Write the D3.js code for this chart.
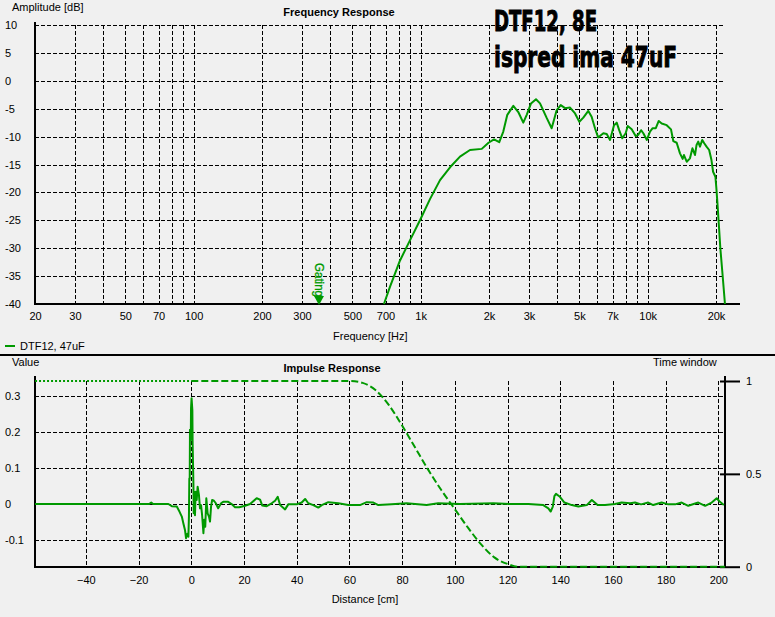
<!DOCTYPE html>
<html><head><meta charset="utf-8">
<script src="https://cdn.jsdelivr.net/npm/d3@7/dist/d3.min.js"></script>
<style>
html,body{margin:0;padding:0;background:#f0f0f0;}
svg{display:block;font-family:"Liberation Sans",Arial,sans-serif;}
</style></head>
<body>
<svg id="chart" width="775" height="617"></svg>
<script>
// ---------- data ----------
const freqHz = [689, 733, 811, 897, 993, 1099, 1217, 1347, 1490, 1649, 1858, 1990, 2105, 2219, 2312, 2408, 2560, 2692, 2832, 2932, 3063, 3221, 3356, 3594, 3777, 3975, 4140, 4325, 4551, 4788, 5000, 5206, 5477, 5664, 5861, 6050, 6378, 6601, 6826, 7108, 7305, 7490, 7730, 8000, 8170, 8505, 8854, 9080, 9350, 9570, 9920, 10240, 10520, 10860, 11190, 11530, 12130, 12670, 12970, 13420, 13880, 14260, 14450, 14860, 15360, 15750, 16160, 16420, 16700, 17000, 17400, 17750, 18170, 18660, 19100, 19420, 19880, 20080, 20300, 20600, 20900, 21300, 21600, 21900];
const freqDb = [-40, -36.9, -32.2, -28.6, -25, -21.2, -17.8, -15.5, -13.6, -12.4, -12.2, -11.1, -10.5, -11.0, -9.1, -6.1, -4.5, -5.6, -7.5, -6.1, -4.05, -3.3, -4.05, -6.7, -8.5, -5.25, -4.35, -4.9, -4.8, -5.85, -7.35, -6.6, -5.4, -6.45, -8.5, -10.15, -9.4, -9.55, -10.6, -7.95, -7.5, -8.85, -10.3, -9.4, -8.1, -8.7, -9.9, -9.7, -8.85, -9.4, -10.6, -9.1, -8.5, -8.5, -7.2, -7.65, -7.95, -8.7, -10.8, -11.1, -13.0, -14.0, -13.3, -14.5, -13.9, -12.1, -13.3, -11.5, -10.9, -11.8, -10.6, -11.2, -11.8, -12.4, -14.2, -16.3, -17.2, -19.3, -22, -26, -30, -34, -37, -40];

const impCm = [-59.3, -16, -15.2, -14.5, -10, -8.7, -7.4, -5.5, -4.5, -3.6, -3.0, -2.4, -2.0, -1.5, -1.1, -0.9, -0.75, -0.6, -0.5, -0.2, -0.1, 0.1, 0.4, 0.5, 0.8, 0.9, 1.1, 1.4, 1.65, 2.05, 2.4, 2.9, 3.3, 3.7, 4.1, 4.6, 4.9, 5.3, 5.7, 6.2, 6.7, 7.1, 7.5, 7.9, 8.6, 9.3, 10.2, 11.3, 12.1, 14.0, 15.3, 16.6, 18.2, 20.4, 22.3, 24.8, 26.1, 26.9, 28.6, 30.5, 31.8, 32.8, 33.7, 35.6, 36.8, 40, 41.9, 43.2, 44.4, 46.3, 48.2, 49.5, 52, 55.8, 59.6, 64, 66.6, 69.1, 71, 76, 81.7, 89.3, 93.7, 102, 114.6, 121, 127.9, 133.6, 135.5, 136.4, 137.2, 137.8, 138.4, 139.9, 141.6, 144.4, 146.9, 150.1, 152, 154.2, 157, 160.8, 163.3, 166.5, 168.4, 170.7, 173.4, 175.3, 178.5, 181, 183.6, 186.1, 188.6, 192.4, 195, 197.5, 199.4, 200.6, 202.1];
const impVal = [0, 0, 0.004, 0, 0, 0, -0.006, -0.007, -0.021, -0.035, -0.054, -0.072, -0.095, -0.083, -0.091, -0.035, 0.071, 0.07, 0.206, 0.178, 0.266, 0.294, 0.261, 0.169, 0.057, -0.026, 0.034, -0.031, 0.034, 0.011, 0.048, 0.025, -0.012, -0.003, -0.031, -0.081, -0.044, -0.063, 0.016, -0.026, -0.035, -0.049, -0.007, 0.011, 0.009, 0.002, -0.012, 0.002, 0.006, 0.006, 0, -0.009, -0.009, -0.005, 0, 0.016, 0.012, -0.004, -0.006, 0.002, 0.009, 0.02, -0.003, -0.015, -0.001, -0.001, 0.004, 0.014, 0.002, -0.003, -0.01, -0.003, 0.005, 0.002, -0.003, -0.003, 0.005, 0.004, -0.003, -0.001, 0.002, -0.003, 0.002, 0, 0.002, 0, 0, -0.003, -0.012, -0.021, -0.007, 0.022, 0.028, 0.02, 0.004, -0.003, -0.007, -0.003, 0.011, -0.003, -0.003, 0, 0.004, 0.002, 0.004, -0.001, 0.004, -0.003, 0.004, -0.001, -0.001, 0.004, -0.005, 0.004, -0.005, 0.004, 0.016, 0.006, -0.003];

const winPreCm = [-59.3, 0];
const winPreVal = [1, 1];
const winCm = [0, 60, 65, 70, 75, 80, 85, 90, 95, 100, 105, 110, 115, 120, 124, 202.5];
const winVal = [1, 1, 0.99, 0.95, 0.87, 0.76, 0.64, 0.52, 0.41, 0.31, 0.21, 0.12, 0.05, 0.015, 0, 0];

const freqTickVals = [20, 30, 50, 70, 100, 200, 300, 500, 700, 1000, 2000, 3000, 5000, 7000, 10000, 20000];
const freqTickLabels = ["20", "30", "50", "70", "100", "200", "300", "500", "700", "1k", "2k", "3k", "5k", "7k", "10k", "20k"];
const dbTicks = [10, 5, 0, -5, -10, -15, -20, -25, -30, -35, -40];
const distTicks = [-40, -20, 0, 20, 40, 60, 80, 100, 120, 140, 160, 180, 200];
const valTicks = [0.3, 0.2, 0.1, 0, -0.1];
const valTickLabels = ["0.3", "0.2", "0.1", "0", "-0.1"];
const winTicks = [1, 0.5, 0];
const winTickLabels = ["1", "0.5", "0"];

// ---------- setup ----------
const GREEN = "#009900";
const svg = d3.select("#chart");
svg.append("rect").attr("width", 775).attr("height", 617).attr("fill", "#f0f0f0");

// ===== Frequency response =====
const fx = d3.scaleLog().domain([20, 20000]).range([35, 716]);
const fy = d3.scaleLinear().domain([-40, 10]).range([304, 25]);
const gTop = svg.append("g");

gTop.selectAll("line.hg").data(dbTicks.filter(d => d > -40)).join("line")
  .attr("x1", 35).attr("x2", 725).attr("y1", d => Math.round(fy(d)) + 0.5).attr("y2", d => Math.round(fy(d)) + 0.5)
  .attr("stroke", "#000").attr("stroke-dasharray", "4,2");
gTop.selectAll("line.vg").data(fx.ticks().filter(d => d > 20)).join("line")
  .attr("x1", d => Math.round(fx(d)) + 0.5).attr("x2", d => Math.round(fx(d)) + 0.5)
  .attr("y1", fy(10)).attr("y2", fy(-40))
  .attr("stroke", "#000").attr("stroke-dasharray", "4,2");

gTop.append("line").attr("x1", 35).attr("x2", 35).attr("y1", 22).attr("y2", 305).attr("stroke", "#000").attr("stroke-width", 2);
gTop.append("line").attr("x1", 34).attr("x2", 740).attr("y1", 304).attr("y2", 304).attr("stroke", "#000").attr("stroke-width", 2);

const fxAxis = d3.axisBottom(fx).tickValues(freqTickVals).tickFormat((d, i) => freqTickLabels[i]).tickSize(0).tickPadding(8);
const gfx = gTop.append("g").attr("transform", "translate(0,304)").call(fxAxis);
gfx.select(".domain").remove();
gfx.selectAll("text").attr("font-size", 11).attr("fill", "#000").attr("font-family", "Liberation Sans, Arial, sans-serif");

gTop.selectAll("text.yl").data(dbTicks).join("text")
  .attr("x", 5).attr("y", d => fy(d) + 4).attr("font-size", 11).text(d => d);

gTop.append("text").attr("x", 12).attr("y", 11).attr("font-size", 11).text("Amplitude [dB]");
gTop.append("text").attr("x", 339).attr("y", 16).attr("font-size", 11).attr("font-weight", "bold").attr("text-anchor", "middle").text("Frequency Response");
gTop.append("text").attr("x", 333).attr("y", 340).attr("font-size", 11).text("Frequency [Hz]");

gTop.append("text").attr("x", 494).attr("y", 31).attr("font-size", 29).attr("font-weight", "bold")
  .attr("font-family", "'Liberation Sans Narrow','DejaVu Sans Condensed','Liberation Sans',sans-serif")
  .attr("stroke", "#000").attr("stroke-width", 0.9)
  .attr("textLength", 103).attr("lengthAdjust", "spacingAndGlyphs").text("DTF12, 8E");
gTop.append("text").attr("x", 494).attr("y", 67).attr("font-size", 29).attr("font-weight", "bold")
  .attr("font-family", "'Liberation Sans Narrow','DejaVu Sans Condensed','Liberation Sans',sans-serif")
  .attr("stroke", "#000").attr("stroke-width", 0.9)
  .attr("textLength", 183).attr("lengthAdjust", "spacingAndGlyphs").text("ispred ima 47uF");

gTop.append("text").attr("transform", "translate(315,263) rotate(90)").attr("font-size", 12)
  .attr("fill", GREEN).attr("stroke", GREEN).attr("stroke-width", 0.3)
  .attr("textLength", 34).attr("lengthAdjust", "spacingAndGlyphs").text("Gating");
gTop.append("path").attr("d", "M314,296 L324,296 L319,305 Z").attr("fill", GREEN);

const fline = d3.line().x(d => fx(d[0])).y(d => fy(d[1]));
gTop.append("path").datum(freqHz.map((f, i) => [f, freqDb[i]]))
  .attr("d", fline).attr("fill", "none").attr("stroke", GREEN).attr("stroke-width", 2).attr("stroke-linejoin", "round");

svg.append("line").attr("x1", 5).attr("x2", 15).attr("y1", 346).attr("y2", 346).attr("stroke", GREEN).attr("stroke-width", 2);
svg.append("text").attr("x", 20).attr("y", 350).attr("font-size", 11).text("DTF12, 47uF");

svg.append("line").attr("x1", 0).attr("x2", 775).attr("y1", 355).attr("y2", 355).attr("stroke", "#000").attr("stroke-width", 2);

// ===== Impulse response =====
const ix = d3.scaleLinear().domain([0, 200]).range([191.3, 718.3]);
const iy = d3.scaleLinear().domain([0, 0.3]).range([504, 396]);
const wy = d3.scaleLinear().domain([0, 1]).range([566.7, 381]);
const gBot = svg.append("g");

gBot.selectAll("line.hg").data(valTicks).join("line")
  .attr("x1", 35).attr("x2", 725).attr("y1", d => Math.round(iy(d)) + 0.5).attr("y2", d => Math.round(iy(d)) + 0.5)
  .attr("stroke", "#000").attr("stroke-dasharray", "4,2");
gBot.selectAll("line.vg").data(distTicks).join("line")
  .attr("x1", d => Math.round(ix(d)) + 0.5).attr("x2", d => Math.round(ix(d)) + 0.5)
  .attr("y1", 381).attr("y2", 567)
  .attr("stroke", "#000").attr("stroke-dasharray", "4,2");

gBot.append("line").attr("x1", 35).attr("x2", 35).attr("y1", 376).attr("y2", 568).attr("stroke", "#000").attr("stroke-width", 2);
gBot.append("line").attr("x1", 34).attr("x2", 726).attr("y1", 567).attr("y2", 567).attr("stroke", "#000").attr("stroke-width", 2);
gBot.append("line").attr("x1", 725).attr("x2", 725).attr("y1", 376).attr("y2", 568).attr("stroke", "#000").attr("stroke-width", 2);

const ixAxis = d3.axisBottom(ix).tickValues(distTicks).tickSize(0).tickPadding(9);
const gix = gBot.append("g").attr("transform", "translate(0,567)").call(ixAxis);
gix.select(".domain").remove();
gix.selectAll("text").attr("font-size", 11).attr("fill", "#000").attr("font-family", "Liberation Sans, Arial, sans-serif");

gBot.selectAll("text.yl").data(valTicks).join("text")
  .attr("x", 5).attr("y", d => iy(d) + 4).attr("font-size", 11).text((d, i) => valTickLabels[i]);

const wAxis = d3.axisRight(wy).tickValues(winTicks).tickFormat((d, i) => winTickLabels[i]).tickSize(15).tickPadding(6);
const gw = gBot.append("g").attr("transform", "translate(725,0)").call(wAxis);
gw.select(".domain").remove();
gw.selectAll(".tick line").attr("stroke", "#000").attr("stroke-width", 2).attr("x1", -5);
gw.selectAll("text").attr("font-size", 11).attr("fill", "#000").attr("font-family", "Liberation Sans, Arial, sans-serif");

gBot.append("text").attr("x", 12).attr("y", 366).attr("font-size", 11).text("Value");
gBot.append("text").attr("x", 332).attr("y", 372).attr("font-size", 11).attr("font-weight", "bold").attr("text-anchor", "middle").text("Impulse Response");
gBot.append("text").attr("x", 653).attr("y", 366).attr("font-size", 11).text("Time window");
gBot.append("text").attr("x", 365).attr("y", 603).attr("font-size", 11).attr("text-anchor", "middle").text("Distance [cm]");

const wline = d3.line().x(d => ix(d[0])).y(d => wy(d[1]));
gBot.append("path").datum(winPreCm.map((c, i) => [c, winPreVal[i]]))
  .attr("d", wline).attr("fill", "none").attr("stroke", GREEN).attr("stroke-width", 2).attr("stroke-dasharray", "2,2");
gBot.append("path").datum(winCm.map((c, i) => [c, winVal[i]]))
  .attr("d", d3.line().x(d => ix(d[0])).y(d => wy(d[1])).curve(d3.curveMonotoneX))
  .attr("fill", "none").attr("stroke", GREEN).attr("stroke-width", 2).attr("stroke-dasharray", "7,3");

const iline = d3.line().x(d => ix(d[0])).y(d => iy(d[1]));
gBot.append("path").datum(impCm.map((c, i) => [c, impVal[i]]))
  .attr("d", iline).attr("fill", "none").attr("stroke", GREEN).attr("stroke-width", 2).attr("stroke-linejoin", "round");
</script>
</body></html>
